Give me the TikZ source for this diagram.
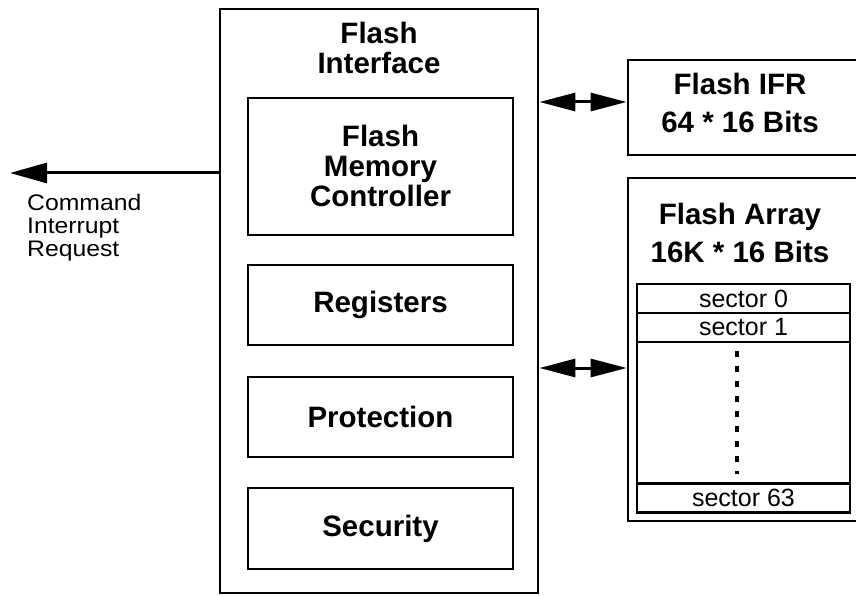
\documentclass[tikz,border=0pt]{standalone}
\usepackage{fontspec}
\setmainfont{Liberation Sans}
\usetikzlibrary{arrows.meta,calc}
\begin{document}
\begin{tikzpicture}[x=1pt,y=-1pt,
  box/.style={draw,line width=2.8pt,rectangle,inner sep=0pt},
  title/.style={align=center,font=\fontsize{29.5}{30}\selectfont\bfseries},
  plain/.style={align=left,inner sep=0pt,font=\fontsize{22.5}{23}\selectfont},
  sect/.style={draw,line width=2.2pt,rectangle,inner sep=0pt,minimum width=213pt,minimum height=29pt,font=\fontsize{25}{24}\selectfont},
  bigarrow/.style={line width=3pt,-{Triangle[length=37pt,width=20pt]}},
  dblarrow/.style={line width=3pt,{Triangle[length=36pt,width=18pt]}-{Triangle[length=36pt,width=18pt]}}]
\useasboundingbox (0,0) rectangle (856,596);
\clip (0,0) rectangle (856,596);
% Flash Interface
\node[box,minimum width=318pt,minimum height=584pt] (fi) at (379,301) {};
\node[title] (fit) at (379,48) {Flash\\Interface};
\node[box,minimum width=265pt,minimum height=137pt] (mc) at (380.5,166.5) {};
\node[title] (mct) at (380.5,166) {Flash\\Memory\\Controller};
\node[box,minimum width=265pt,minimum height=80pt,title] (reg) at (380.5,305) {Registers};
\node[box,minimum width=265pt,minimum height=80pt,title] (prot) at (380.5,417) {Protection};
\node[box,minimum width=265pt,minimum height=81pt,title] (sec) at (380.5,528.5) {Security};
% Flash IFR
\node[box,minimum width=260pt,minimum height=95pt] (ifr) at (758,107.5) {};
\node[title] (ifrt) at (740,103) {Flash IFR\\[8pt]64 * 16 Bits};
% Flash Array
\node[box,minimum width=260pt,minimum height=343pt] (arr) at (758,349.5) {};
\node[title] (arrt) at (740,232.5) {Flash Array\\[8pt]16K * 16 Bits};
\node[draw,line width=2.2pt,rectangle,inner sep=0pt,minimum width=213pt,minimum height=229pt] (tab) at (743.5,398.5) {};
\node[sect] (s0) at (743.5,298.5) {sector 0};
\node[sect] (s1) at (743.5,327.5) {sector 1};
\node[sect] (s63) at (743.5,498) {sector 63};
\draw[line width=3.2pt,dash pattern=on 6pt off 9pt] ([xshift=-6.5pt,yshift=-8pt]s1.south) -- ([xshift=-6.5pt,yshift=8pt]s63.north);
% connectors
\draw[dblarrow] ([yshift=5.5pt]ifr.west -| fi.east) -- ([yshift=5.5pt]ifr.west);
\draw[dblarrow] ([yshift=-18.5pt]arr.west -| fi.east) -- ([yshift=-18.5pt]arr.west);
\coordinate (cmd) at (10,173);
\draw[bigarrow] (fi.west |- cmd) -- (cmd);
\node[plain,anchor=west] (cmdt) at (27,228) {\scalebox{1.1}[1]{Command}\\\scalebox{1.1}[1]{Interrupt}\\\scalebox{1.1}[1]{Request}};
\end{tikzpicture}
\end{document}
